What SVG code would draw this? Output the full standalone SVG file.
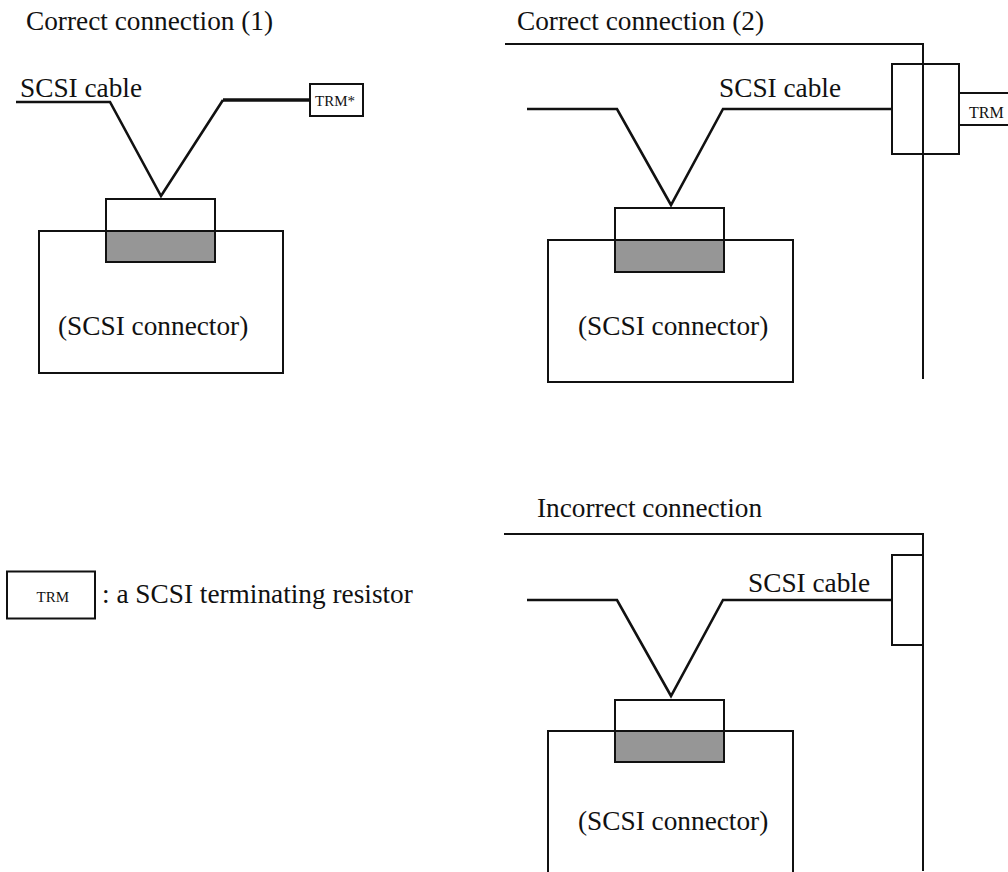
<svg xmlns="http://www.w3.org/2000/svg" width="1008" height="872" viewBox="0 0 1008 872">
<style>
text{font-family:"Liberation Serif","Times New Roman",serif;fill:#111}
.l{font-size:27.3px}
.s{font-size:15px}
.m{font-size:16px}
.b{fill:#fff;stroke:#111;stroke-width:2}
.o{fill:none;stroke:#111;stroke-width:2}
.w{fill:none;stroke:#111;stroke-width:2.6;stroke-linejoin:miter}
.g{fill:#969696;stroke:#111;stroke-width:2}
</style>
<rect width="1008" height="872" fill="#fff"/>
<g id="panel1">
<text class="l" x="26" y="30">Correct connection (1)</text>
<text class="l" x="20" y="96.5">SCSI cable</text>
<g id="device1"><rect class="o" x="39" y="231" width="244" height="142"/><text class="l" x="58" y="335">(SCSI connector)</text></g>
<g id="connector1"><rect class="b" x="106" y="199" width="109" height="32"/><rect class="g" x="106" y="231" width="109" height="31"/></g>
<g id="trm1"><rect class="b" x="310" y="84" width="53" height="32"/><text class="s" x="315" y="106">TRM*</text></g>
</g>
<g id="panel2">
<text class="l" x="517" y="30">Correct connection (2)</text>
<text class="l" x="719" y="96.5">SCSI cable</text>
<g id="device2"><rect class="o" x="548" y="240" width="245" height="142"/><text class="l" x="578" y="335">(SCSI connector)</text></g>
<g id="connector2"><rect class="b" x="615" y="208" width="109" height="32"/><rect class="g" x="615" y="240" width="109" height="32"/></g>
<g id="tap2"><rect class="o" x="892" y="64" width="67" height="90"/></g>
<g id="trm2"><text class="m" x="969" y="117.5">TRM</text></g>
</g>
<g id="panel3">
<text class="l" x="537" y="517">Incorrect connection</text>
<text class="l" x="748" y="591.5">SCSI cable</text>
<g id="device3"><path class="o" d="M548 872V731H793V872"/><text class="l" x="578" y="830">(SCSI connector)</text></g>
<g id="connector3"><rect class="b" x="615" y="700" width="109" height="31"/><rect class="g" x="615" y="731" width="109" height="31"/></g>
<g id="tap3"><rect class="o" x="892" y="555" width="31" height="90"/></g>
</g>
<g id="legend">
<rect class="o" x="7" y="571.500" width="88" height="47"/>
<text class="s" x="36.500" y="601.500">TRM</text>
<text class="l" x="102" y="603">: a SCSI terminating resistor</text>
</g>
<g id="connectors">
<path class="w" d="M16 102H110L161 196L223 100"/>
<path fill="none" stroke="#111" stroke-width="3.5" d="M223 100H310"/>
<path class="w" d="M527 109H617L671 205L723 109H892"/>
<path class="o" d="M505 44H923V379"/>
<path class="o" d="M959 93H1008M959 125H1008"/>
<path class="w" d="M527 600H617L671 696L723 600H892"/>
<path class="o" d="M504 534H923V871"/>
</g>
</svg>
